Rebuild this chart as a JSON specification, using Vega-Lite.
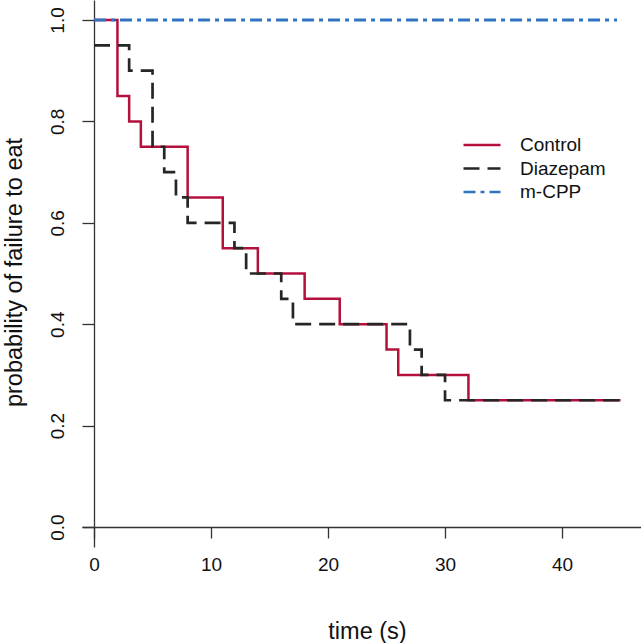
{
  "$schema": "https://vega.github.io/schema/vega-lite/v6.json",
  "width": 559,
  "height": 547,
  "autosize": {"type": "none"},
  "padding": {"left": 82, "top": 0, "right": 0, "bottom": 96},
  "background": "white",
  "config": {"view": {"stroke": null}, "font": "Liberation Sans"},
  "data": {
    "values": [
      {"group": "Control", "time": 0, "prob": 1.0},
      {"group": "Control", "time": 2, "prob": 0.85},
      {"group": "Control", "time": 3, "prob": 0.8},
      {"group": "Control", "time": 4, "prob": 0.75},
      {"group": "Control", "time": 8, "prob": 0.65},
      {"group": "Control", "time": 11, "prob": 0.55},
      {"group": "Control", "time": 14, "prob": 0.5},
      {"group": "Control", "time": 18, "prob": 0.45},
      {"group": "Control", "time": 21, "prob": 0.4},
      {"group": "Control", "time": 25, "prob": 0.35},
      {"group": "Control", "time": 26, "prob": 0.3},
      {"group": "Control", "time": 32, "prob": 0.25},
      {"group": "Control", "time": 45, "prob": 0.25},
      {"group": "Diazepam", "time": 0, "prob": 0.95},
      {"group": "Diazepam", "time": 3, "prob": 0.9},
      {"group": "Diazepam", "time": 5, "prob": 0.75},
      {"group": "Diazepam", "time": 6, "prob": 0.7},
      {"group": "Diazepam", "time": 7, "prob": 0.65},
      {"group": "Diazepam", "time": 8, "prob": 0.6},
      {"group": "Diazepam", "time": 12, "prob": 0.55},
      {"group": "Diazepam", "time": 13, "prob": 0.5},
      {"group": "Diazepam", "time": 16, "prob": 0.45},
      {"group": "Diazepam", "time": 17, "prob": 0.4},
      {"group": "Diazepam", "time": 27, "prob": 0.35},
      {"group": "Diazepam", "time": 28, "prob": 0.3},
      {"group": "Diazepam", "time": 30, "prob": 0.25},
      {"group": "Diazepam", "time": 45, "prob": 0.25},
      {"group": "m-CPP", "time": 0, "prob": 1.0},
      {"group": "m-CPP", "time": 44.7, "prob": 1.0}
    ]
  },
  "encoding": {
    "x": {
      "field": "time",
      "type": "quantitative",
      "scale": {"domain": [-1.03, 46.75], "nice": false, "zero": false},
      "axis": {
        "title": "time (s)",
        "orient": "bottom",
        "offset": -20,
        "values": [0, 10, 20, 30, 40],
        "grid": false,
        "tickSize": 11,
        "tickColor": "#333",
        "tickWidth": 1.3,
        "domainColor": "#333",
        "domainWidth": 1.3,
        "labelFontSize": 19,
        "labelColor": "#111",
        "labelPadding": 17,
        "labelFlush": false,
        "labelOverlap": false,
        "titleFontSize": 23.5,
        "titleFontWeight": "normal",
        "titleColor": "#111",
        "titleAlign": "center",
        "titleBaseline": "alphabetic",
        "titleX": 285,
        "titleY": 111
      }
    },
    "y": {
      "field": "prob",
      "type": "quantitative",
      "scale": {"domain": [-0.0394, 1.0394], "nice": false, "zero": false},
      "axis": {
        "title": "probability of failure to eat",
        "orient": "left",
        "offset": -12,
        "values": [0, 0.2, 0.4, 0.6, 0.8, 1.0],
        "format": ".1f",
        "grid": false,
        "tickSize": 12,
        "tickColor": "#333",
        "tickWidth": 1.3,
        "domainColor": "#333",
        "domainWidth": 1.3,
        "labelAngle": -90,
        "labelAlign": "center",
        "labelBaseline": "bottom",
        "labelPadding": 15,
        "labelFontSize": 19,
        "labelColor": "#111",
        "labelFlush": false,
        "labelOverlap": false,
        "titleFontSize": 23.5,
        "titleFontWeight": "normal",
        "titleColor": "#111",
        "titleAngle": -90,
        "titleAlign": "center",
        "titleBaseline": "alphabetic",
        "titleX": -73,
        "titleY": 272
      }
    },
    "color": {
      "field": "group",
      "type": "nominal",
      "scale": {"domain": ["Control", "Diazepam", "m-CPP"], "range": ["#b4103c", "#262626", "#2f74c0"]},
      "legend": {
        "title": null,
        "orient": "none",
        "legendX": 380,
        "legendY": 135,
        "symbolType": "stroke",
        "symbolSize": 1369,
        "symbolStrokeWidth": 2.5,
        "labelFontSize": 19,
        "labelColor": "#111",
        "labelOffset": 18,
        "rowPadding": 3.5,
        "clipHeight": 20,
        "padding": 0,
        "symbolOffset": 0
      }
    },
    "strokeDash": {
      "field": "group",
      "type": "nominal",
      "scale": {"domain": ["Control", "Diazepam", "m-CPP"], "range": [[1, 0], [16, 8], [12, 5, 4, 5]]},
      "legend": {
        "title": null,
        "orient": "none",
        "legendX": 380,
        "legendY": 135,
        "symbolType": "stroke",
        "symbolSize": 1369,
        "symbolStrokeWidth": 2.5,
        "labelFontSize": 19,
        "labelColor": "#111",
        "labelOffset": 18,
        "rowPadding": 3.5,
        "clipHeight": 20,
        "padding": 0,
        "symbolOffset": 0
      }
    }
  },
  "layer": [
    {
      "transform": [{"filter": "datum.group === 'Control'"}],
      "mark": {"type": "line", "interpolate": "step-after", "strokeWidth": 2.5, "strokeCap": "butt"}
    },
    {
      "transform": [{"filter": "datum.group === 'Diazepam'"}],
      "mark": {"type": "line", "interpolate": "step-after", "strokeWidth": 2.7, "strokeCap": "butt"}
    },
    {
      "transform": [{"filter": "datum.group === 'm-CPP'"}],
      "mark": {"type": "line", "interpolate": "step-after", "strokeWidth": 3, "strokeCap": "butt"}
    }
  ]
}
